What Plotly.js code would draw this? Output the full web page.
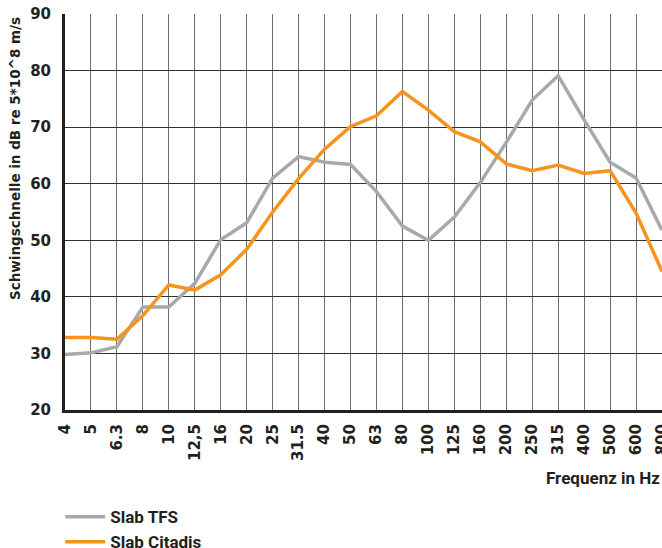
<!DOCTYPE html>
<html>
<head>
<meta charset="utf-8">
<script src="https://cdn.plot.ly/plotly-3.0.1.min.js"></script>
<style>html,body{margin:0;padding:0;background:#fff;}#chart{width:662px;height:548px;}</style>
</head>
<body>
<div id="chart"></div>
<script>
const frequencies = ["4","5","6.3","8","10","12,5","16","20","25","31.5","40","50","63","80","100","125","160","200","250","315","400","500","600","800"];
const slabTFS = [29.8,30.1,31.2,38.2,38.2,42.4,50.1,53.1,61.0,64.8,63.8,63.4,58.6,52.5,50.0,54.1,60.2,67.3,74.8,79.1,71.3,63.8,61.0,51.8];
const slabCitadis = [32.8,32.8,32.5,36.7,42.1,41.2,43.9,48.4,55.0,60.9,66.1,70.1,72.0,76.3,73.0,69.2,67.4,63.5,62.3,63.3,61.8,62.3,54.8,44.5];
const seriesNames = ["Slab TFS","Slab Citadis"];
const yTitle = "Schwingschnelle in dB re 5*10^8 m/s";
const xTitle = "Frequenz in Hz";

const boldWide = {family:"DejaVu Sans, sans-serif", size:15, color:"#231f20", weight:700};
const boldNarrow = {family:"Roboto, sans-serif", size:17, color:"#231f20", weight:700};

const traces = [
  {x:frequencies, y:slabTFS, name:seriesNames[0], type:"scatter", mode:"lines",
   line:{color:"#a7a9ac", width:3.5}},
  {x:frequencies, y:slabCitadis, name:seriesNames[1], type:"scatter", mode:"lines",
   line:{color:"#f7941d", width:3.5}}
];

const layout = {
  width:662, height:548,
  margin:{l:65, r:0, t:14, b:138, autoexpand:false},
  paper_bgcolor:"#fff", plot_bgcolor:"#fff",
  showlegend:true,
  legend:{x:-0.008, y:-0.225, xanchor:"left", yanchor:"top", orientation:"v",
          font:boldNarrow, itemwidth:40, tracegroupgap:0, bgcolor:"rgba(0,0,0,0)"},
  xaxis:{type:"category", range:[0,23], showgrid:true, gridcolor:"#6d6d6d", gridwidth:1,
         showline:true, linecolor:"#231f20", linewidth:3, ticks:"", tickangle:-90,
         tickfont:boldWide, zeroline:false, fixedrange:true, ticklabelstandoff:5},
  yaxis:{range:[20,90], dtick:10, showgrid:true, gridcolor:"#333333", gridwidth:1,
         showline:true, linecolor:"#231f20", linewidth:3, ticks:"",
         tickfont:{family:"DejaVu Sans, sans-serif", size:15, color:"#231f20", weight:700},
         zeroline:false, fixedrange:true, ticklabelstandoff:8},
  annotations:[
    {text:yTitle, xref:"paper", yref:"paper", x:-0.084, y:0.636, xanchor:"center", yanchor:"middle",
     textangle:-90, showarrow:false, font:{family:"DejaVu Sans, sans-serif", size:13.5, color:"#231f20", weight:700}},
    {text:xTitle, xref:"paper", yref:"paper", x:1, y:-0.172, xanchor:"right", yanchor:"middle",
     showarrow:false, font:{family:"Roboto, sans-serif", size:17, color:"#231f20", weight:700}}
  ]
};

Plotly.newPlot("chart", traces, layout, {displayModeBar:false, staticPlot:true});
</script>
</body>
</html>
